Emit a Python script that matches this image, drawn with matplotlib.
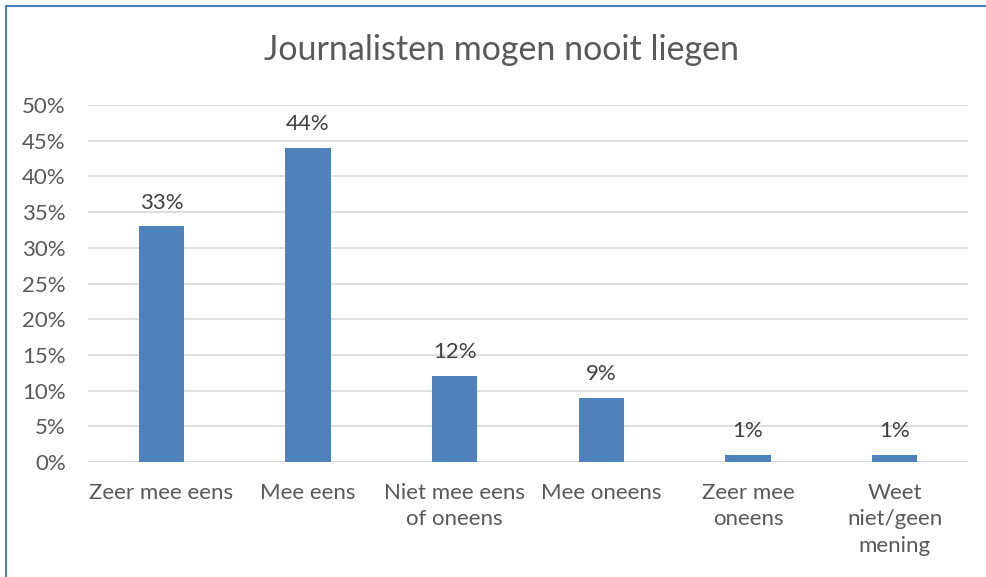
import numpy as np
import matplotlib.pyplot as plt
from matplotlib.lines import Line2D

plt.rcParams['font.family'] = ['Lato', 'DejaVu Sans']

# Gegevens
categorieen = ['Zeer mee eens', 'Mee eens', 'Niet mee eens\nof oneens', 'Mee oneens',
               'Zeer mee\noneens', 'Weet\nniet/geen\nmening']
percentages = [33, 44, 12, 9, 1, 1]
y_ticks = [0, 5, 10, 15, 20, 25, 30, 35, 40, 45, 50]

tekst_kleur = '#595959'
bar_kleur = '#4f81bd'

fig = plt.figure(figsize=(9.86, 5.77), dpi=100)
ax = fig.add_axes([0.0893, 0.1993, 0.8924, 0.6187])

x = np.arange(len(categorieen))
ax.bar(x, percentages, width=0.31, color=bar_kleur, zorder=3)

for xi, p in zip(x, percentages):
    ax.annotate(f'{p}%', (xi, p), xytext=(0, 10), textcoords='offset points',
                ha='center', va='bottom', fontsize=16, color='#404040')

ax.set_xlim(-0.5, len(categorieen) - 0.5)
ax.set_ylim(0, 50)
ax.set_yticks(y_ticks)
ax.set_yticklabels([f'{t}%' for t in y_ticks])
ax.set_xticks(x)
ax.set_xticklabels(categorieen, linespacing=1.4)
ax.tick_params(axis='both', length=0, labelsize=16, colors=tekst_kleur)
ax.tick_params(axis='y', pad=16)
ax.tick_params(axis='x', pad=15)
for lbl in ax.get_xticklabels():
    lbl.set_verticalalignment('top')

ax.grid(axis='y', color='#d9d9d9', linewidth=1.2, zorder=0)
for s in ax.spines.values():
    s.set_visible(False)
ax.axhline(0, color='#d9d9d9', linewidth=1.2, zorder=2)

fig.suptitle('Journalisten mogen nooit liegen', x=0.509, y=0.913, fontsize=24.5,
             color=tekst_kleur, va='center')

# Rand boven en links
fig.add_artist(Line2D([0.006, 1.0], [0.989, 0.989], color='#4a7ebb', linewidth=1.5,
                      transform=fig.transFigure))
fig.add_artist(Line2D([0.006, 0.006], [0.0, 0.989], color='#4a7ebb', linewidth=1.5,
                      transform=fig.transFigure))

fig.savefig('out.png', dpi=100)
